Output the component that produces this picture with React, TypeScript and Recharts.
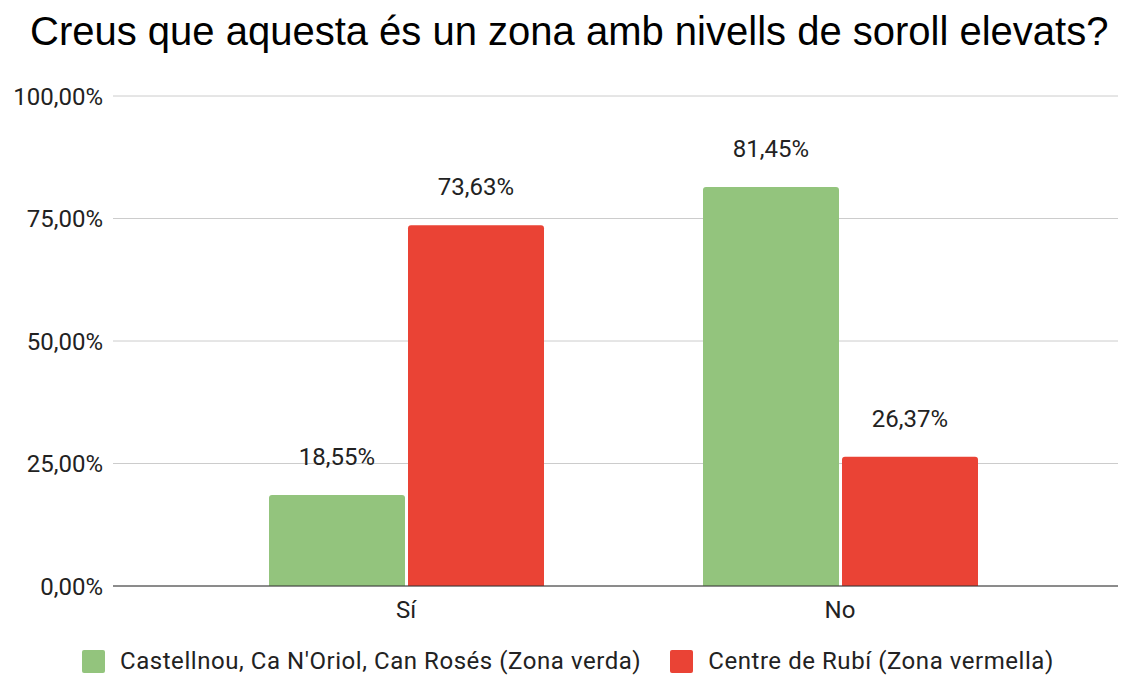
import { BarChart, Bar, XAxis, YAxis, CartesianGrid, LabelList } from "recharts";

const categories = ["Sí", "No"];
const zonaVerda = [18.55, 81.45];
const zonaVermella = [73.63, 26.37];
const yTicks = [0, 25, 50, 75, 100];

const SERIES = [
  { key: "verda", name: "Castellnou, Ca N'Oriol, Can Rosés (Zona verda)", color: "#93c47d" },
  { key: "vermella", name: "Centre de Rubí (Zona vermella)", color: "#ea4335" },
];

const data = categories.map((cat, i) => ({ cat, verda: zonaVerda[i], vermella: zonaVermella[i] }));

const pct = (v: number) => `${v.toFixed(2).replace(".", ",")}%`;
const font = { fill: "#222", fontSize: 24, fontFamily: "Roboto, sans-serif" };

export default function App() {
  return (
    <div style={{ position: "fixed", top: 0, left: 0, width: 1133, height: 675, background: "#fff", overflow: "hidden" }}>
      <div
        style={{
          position: "absolute",
          top: 9,
          left: 30,
          fontFamily: "'Liberation Sans', Arial, sans-serif",
          fontSize: 40,
          color: "#000",
          whiteSpace: "nowrap",
        }}
      >
        Creus que aquesta és un zona amb nivells de soroll elevats?
      </div>
      <BarChart
        width={1133}
        height={675}
        data={data}
        margin={{ top: 96, right: 15, bottom: 49, left: 0 }}
        barSize={136}
        barGap={3}
      >
        <CartesianGrid vertical={false} stroke="#cccccc" />
        <XAxis
          dataKey="cat"
          axisLine={{ stroke: "#333" }}
          tickLine={false}
          padding={{ left: 76, right: 61 }}
          height={40}
          tickMargin={9}
          tick={font}
        />
        <YAxis
          domain={[0, 100]}
          ticks={yTicks}
          width={113}
          axisLine={false}
          tickLine={false}
          tickMargin={4}
          tickFormatter={pct}
          tick={font}
        />
        {SERIES.map((s) => (
          <Bar key={s.key} dataKey={s.key} name={s.name} fill={s.color} radius={[3, 3, 0, 0]} isAnimationActive={false}>
            <LabelList dataKey={s.key} position="top" offset={30} formatter={(v: number) => pct(v)} style={font} />
          </Bar>
        ))}
      </BarChart>
      <div
        style={{
          position: "absolute",
          top: 649,
          left: 82,
          display: "flex",
          alignItems: "center",
          fontFamily: "Roboto, sans-serif",
          fontSize: 24,
          lineHeight: "24px",
          letterSpacing: 0.55,
          color: "#222",
        }}
      >
        {SERIES.map((s, i) => (
          <div key={s.key} style={{ display: "flex", alignItems: "center", marginLeft: i ? 29 : 0 }}>
            <span style={{ width: 23, height: 23, background: s.color, borderRadius: 2, marginRight: 15, display: "inline-block" }} />
            <span style={{ whiteSpace: "nowrap" }}>{s.name}</span>
          </div>
        ))}
      </div>
    </div>
  );
}
